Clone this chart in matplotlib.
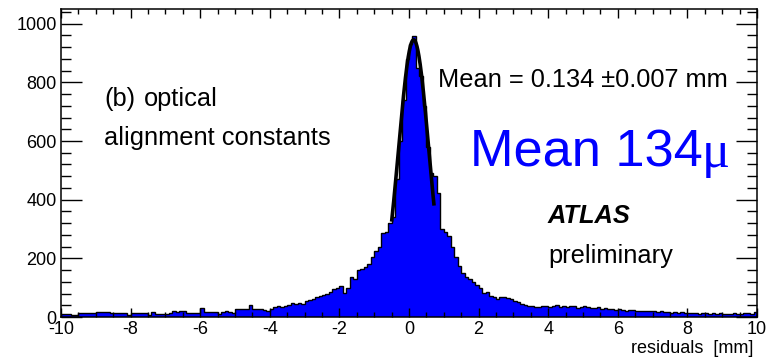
import numpy as np
import matplotlib
matplotlib.use("Agg")
import matplotlib.pyplot as plt
from matplotlib.ticker import MultipleLocator

plt.rcParams['font.family'] = ['Liberation Sans', 'DejaVu Sans']

# ---- data: residual histogram, 200 bins of 0.1 mm from -10 to 10 ----
bin_lo = -10.0
bin_hi = 10.0
counts = (
    [10, 10, 9, 7, 7, 12, 13, 13, 12, 13] +          # -10 .. -9
    [18, 18, 17, 18, 15, 13, 14, 15, 15, 8] +        # -9 .. -8
    [14, 13, 14, 15, 12, 7, 18, 10, 11, 10] +        # -8 .. -7
    [10, 15, 19, 18, 20, 19, 13, 14, 12, 13] +       # -7 .. -6
    [30, 17, 18, 16, 17, 10, 17, 22, 18, 15] +       # -6 .. -5
    [27, 26, 28, 27, 40, 28, 26, 27, 25, 19] +       # -5 .. -4
    [28, 33, 36, 35, 38, 42, 47, 46, 48, 45] +       # -4 .. -3
    [55, 57, 60, 68, 70, 75, 77, 85, 95, 100] +      # -3 .. -2
    [105, 82, 100, 135, 128, 160, 162, 172, 180, 206] +  # -2 .. -1
    [225, 240, 285, 290, 322, 340, 470, 600, 740, 880] + # -1 .. 0
    [930, 957, 850, 820, 720, 580, 490, 480, 423, 300] + # 0 .. 1
    [290, 275, 240, 205, 175, 150, 135, 128, 120, 110] + # 1 .. 2
    [98, 82, 86, 70, 69, 60, 69, 69, 64, 62] +       # 2 .. 3
    [54, 52, 45, 41, 37, 37, 34, 35, 38, 36] +       # 3 .. 4
    [34, 36, 40, 35, 37, 33, 38, 36, 32, 35] +       # 4 .. 5
    [37, 34, 30, 32, 33, 28, 30, 26, 27, 25] +       # 5 .. 6
    [27, 24, 22, 25, 23, 21, 22, 20, 19, 21] +       # 6 .. 7
    [19, 18, 22, 16, 17, 15, 18, 14, 16, 15] +       # 7 .. 8
    [13, 12, 14, 11, 13, 12, 10, 12, 11, 13] +       # 8 .. 9
    [10, 11, 9, 12, 10, 11, 13, 12, 10, 16]          # 9 .. 10
)
# Gaussian fit parameters
fit_amp = 945.0
fit_mean = 0.134
fit_sigma = 0.434
fit_lo = -0.50
fit_hi = 0.72

xticks = [-10, -8, -6, -4, -2, 0, 2, 4, 6, 8, 10]
yticks = [0, 200, 400, 600, 800, 1000]

# ---- figure ----
W, H = 776, 358
fig = plt.figure(figsize=(W / 100, H / 100), dpi=100)
ax = fig.add_axes([61 / W, 41 / H, 696 / W, 308 / H])

edges = np.linspace(bin_lo, bin_hi, len(counts) + 1)
vals = np.array(counts, dtype=float)
ax.stairs(vals, edges, fill=True, color='#0000ff', baseline=0)
ax.stairs(vals, edges, color='black', lw=1.0, baseline=0)

xf = np.linspace(fit_lo, fit_hi, 200)
yf = fit_amp * np.exp(-0.5 * ((xf - fit_mean) / fit_sigma) ** 2)
ax.plot(xf, yf, color='black', lw=2.6, solid_capstyle='butt')

ax.set_xlim(bin_lo, bin_hi)
ax.set_ylim(0, 1050)
ax.set_xticks(xticks)
ax.set_xticklabels([str(t) for t in xticks])
ax.set_yticks(yticks)
ax.set_yticklabels([str(t) for t in yticks])
ax.xaxis.set_minor_locator(MultipleLocator(0.5))
ax.yaxis.set_minor_locator(MultipleLocator(40))

ax.tick_params(axis='both', which='both', direction='in', top=True, right=True,
               labelsize=13, width=1.0, colors='black')
ax.tick_params(axis='x', which='major', length=6.6, pad=3)
ax.tick_params(axis='x', which='minor', length=3.3)
ax.tick_params(axis='y', which='major', length=15, pad=3)
ax.tick_params(axis='y', which='minor', length=7.5)
for s in ax.spines.values():
    s.set_linewidth(1.1)

def ftext(px, py, s, **kw):
    fig.text(px / W, 1 - py / H, s, va='baseline', **kw)

fs = 18.3
ftext(104, 106, "(b)", fontsize=fs)
ftext(144, 106, "optical", fontsize=fs)
ftext(104, 145, "alignment constants", fontsize=fs)
ftext(438, 87, "Mean = 0.134 \u00b10.007 mm", fontsize=fs)
ftext(470, 167, "Mean 134", fontsize=37.7, color='#0000ff')
ftext(702, 167, "\u03bc", fontsize=37.7, color='#0000ff',
      family=['Liberation Serif', 'DejaVu Serif'])
ftext(548, 223, "ATLAS", fontsize=fs, fontweight='bold', fontstyle='italic')
ftext(548, 263, "preliminary", fontsize=fs)
ftext(753, 353, "residuals  [mm]", fontsize=13, ha='right')

fig.savefig("out.png", dpi=100)
